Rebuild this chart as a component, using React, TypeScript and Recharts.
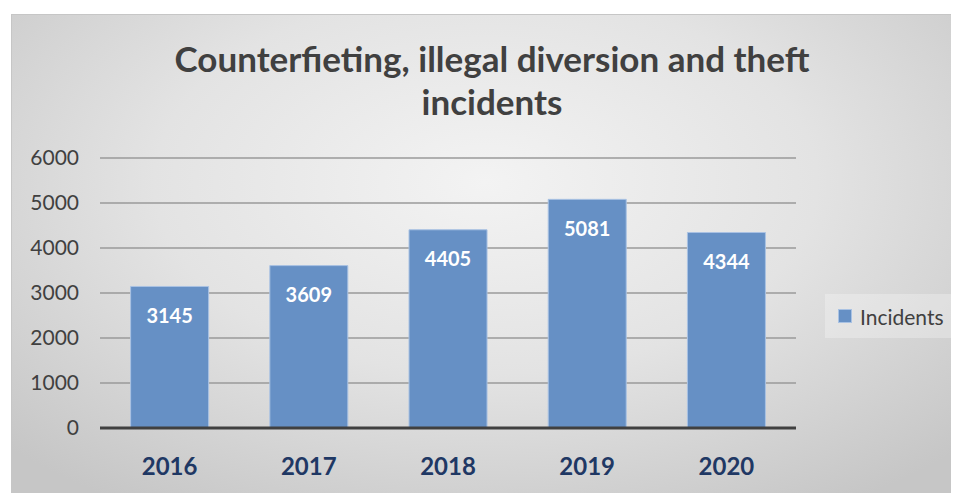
import { BarChart, Bar, XAxis, YAxis, CartesianGrid, LabelList } from 'recharts';

const years = ['2016', '2017', '2018', '2019', '2020'];
const incidents = [3145, 3609, 4405, 5081, 4344];
const yTicks = [0, 1000, 2000, 3000, 4000, 5000, 6000];

const data = years.map((year, i) => ({ year, incidents: incidents[i] }));

const FONT = 'Lato, "Open Sans", sans-serif';
const BAR = '#6690c5';

function LegendBox() {
  return (
    <div
      style={{
        position: 'absolute',
        left: 813,
        top: 279,
        width: 132,
        height: 44,
        background: 'rgba(255,255,255,0.28)',
        display: 'flex',
        alignItems: 'center',
        fontSize: 21,
        color: '#404040',
      }}
    >
      <span
        style={{
          display: 'inline-block',
          width: 12,
          height: 12,
          marginLeft: 13,
          marginRight: 8,
          background: BAR,
          border: '1px solid #a9c2e3',
        }}
      />
      <span>Incidents</span>
    </div>
  );
}

export default function App() {
  return (
    <div
      style={{
        position: 'relative',
        width: 947,
        height: 478,
        marginLeft: 3,
        marginTop: 6,
        borderTop: '1px solid #c6c6c6',
        borderLeft: '1px solid #c6c6c6',
        background: 'radial-gradient(ellipse 70% 80% at 50% 35%, #f3f3f3 0%, #e3e3e3 50%, #c6c6c6 100%)',
        fontFamily: FONT,
      }}
    >
      <div
        style={{
          position: 'absolute',
          left: 0,
          width: 960,
          top: 22,
          textAlign: 'center',
          fontSize: 35,
          fontWeight: 700,
          lineHeight: '43px',
          color: '#404040',
        }}
      >
        Counterfieting, illegal diversion and theft
        <br />
        incidents
      </div>
      <BarChart
        width={947}
        height={478}
        data={data}
        margin={{ top: 143, right: 163, bottom: 0, left: 8 }}
        barCategoryGap="22%"
      >
        <CartesianGrid vertical={false} stroke="#9a9a9a" strokeWidth={1.5} />
        <XAxis
          dataKey="year"
          axisLine={{ stroke: '#404040', strokeWidth: 3 }}
          tickLine={false}
          tickSize={0}
          tickMargin={30}
          height={65}
          tick={{ fill: '#1f3864', fontSize: 24, fontWeight: 700, fontFamily: FONT }}
        />
        <YAxis
          domain={[0, 6000]}
          ticks={yTicks}
          width={80}
          axisLine={false}
          tickLine={false}
          tickSize={0}
          tickMargin={21}
          tick={{ fill: '#404040', fontSize: 21, fontFamily: FONT }}
        />
        <Bar dataKey="incidents" name="Incidents" fill={BAR} stroke="#a9c2e3" strokeWidth={1} isAnimationActive={false}>
          <LabelList
            dataKey="incidents"
            position="insideTop"
            offset={22}
            fill="#ffffff"
            style={{ fontSize: 20, fontWeight: 700, fontFamily: FONT }}
          />
        </Bar>
      </BarChart>
      <LegendBox />
    </div>
  );
}
